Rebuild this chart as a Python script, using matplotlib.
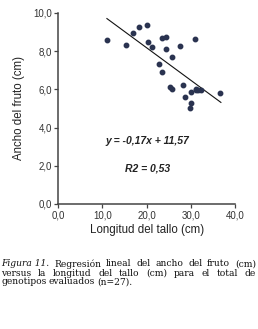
import matplotlib
matplotlib.use('Agg')
import matplotlib.pyplot as plt

# data
longitud = [11.1, 15.3, 17.0, 18.2, 20.1, 20.4, 21.2, 23.5, 24.4, 24.4,
            22.9, 23.5, 25.7, 27.5, 31.0, 25.3, 25.7, 28.2, 28.7, 30.0,
            30.0, 29.8, 31.1, 31.7, 32.4, 36.6, 31.2]
ancho = [8.60, 8.32, 8.95, 9.26, 9.36, 8.48, 8.21, 8.70, 8.74, 8.11,
         7.31, 6.91, 7.69, 8.27, 8.65, 6.13, 5.99, 6.23, 5.60, 5.86,
         5.26, 5.00, 5.97, 5.97, 5.94, 5.83, 6.04]
slope, intercept = -0.17, 11.57
fit_x = [11.0, 36.8]

x_ticks = [0, 10, 20, 30, 40]
y_ticks = [0, 2, 4, 6, 8, 10]

def coma(v):
    return f'{v:.1f}'.replace('.', ',')

plt.rcParams['font.family'] = ['Liberation Sans', 'DejaVu Sans']

fig = plt.figure(figsize=(2.58, 3.29), dpi=100)
ax = fig.add_axes([0.226, 0.380, 0.685, 0.581])

ax.plot(fit_x, [slope * v + intercept for v in fit_x], color='#111111', lw=0.8)
ax.plot(longitud, ancho, 'o', color='#2a3350', ms=3.2, mec='#2a3350')

ax.set_xlim(0, 40)
ax.set_ylim(0, 10)
ax.set_xticks(x_ticks)
ax.set_yticks(y_ticks)
ax.set_xticklabels([coma(v) for v in x_ticks])
ax.set_yticklabels([coma(v) for v in y_ticks])
for s in ['top', 'right']:
    ax.spines[s].set_visible(False)
for s in ['left', 'bottom']:
    ax.spines[s].set_color('#444444')
    ax.spines[s].set_linewidth(1.1)
ax.tick_params(direction='out', length=3, width=0.9, color='#444444',
               labelsize=7, labelcolor='#333333', pad=1.5)
ax.set_xlabel('Longitud del tallo (cm)', fontsize=8.3, color='#222222', labelpad=3)
ax.set_ylabel('Ancho del fruto (cm)', fontsize=8.3, color='#222222', labelpad=6)

ax.text(20.2, 3.3, 'y = -0,17x + 11,57', ha='center', va='center',
        fontsize=7.5, fontweight='bold', fontstyle='italic', color='#222222')
ax.text(20.2, 1.88, 'R2 = 0,53', ha='center', va='center',
        fontsize=7.5, fontweight='bold', fontstyle='italic', color='#222222')

# caption, justified like the printed page
caption = [
    [('Figura 11.', 'italic'), ('Regresión', 'normal'), ('lineal', 'normal'),
     ('del', 'normal'), ('ancho', 'normal'), ('del', 'normal'),
     ('fruto', 'normal'), ('(cm)', 'normal')],
    [('versus', 'normal'), ('la', 'normal'), ('longitud', 'normal'),
     ('del', 'normal'), ('tallo', 'normal'), ('(cm)', 'normal'),
     ('para', 'normal'), ('el', 'normal'), ('total', 'normal'), ('de', 'normal')],
    [('genotipos', 'normal'), ('evaluados', 'normal'), ('(n=27).', 'normal')],
]
cap_y = [264, 273, 282]
left_px, right_px = 1, 256
W, H = 258, 329
fsz = 6.6
renderer = fig.canvas.get_renderer()
for i, (words, ypx) in enumerate(zip(caption, cap_y)):
    arts = [fig.text(0, 1 - ypx / H, w, fontsize=fsz, fontstyle=st,
                     family=['DejaVu Serif'],
                     color='#111111', va='center', ha='left')
            for w, st in words]
    widths = [a.get_window_extent(renderer).width for a in arts]
    if i < len(caption) - 1:
        gap = (right_px - left_px - sum(widths)) / (len(words) - 1)
    else:
        gap = 2.0
    x = left_px
    for a, w in zip(arts, widths):
        a.set_x(x / W)
        x += w + gap

fig.savefig('out.png', dpi=100)
